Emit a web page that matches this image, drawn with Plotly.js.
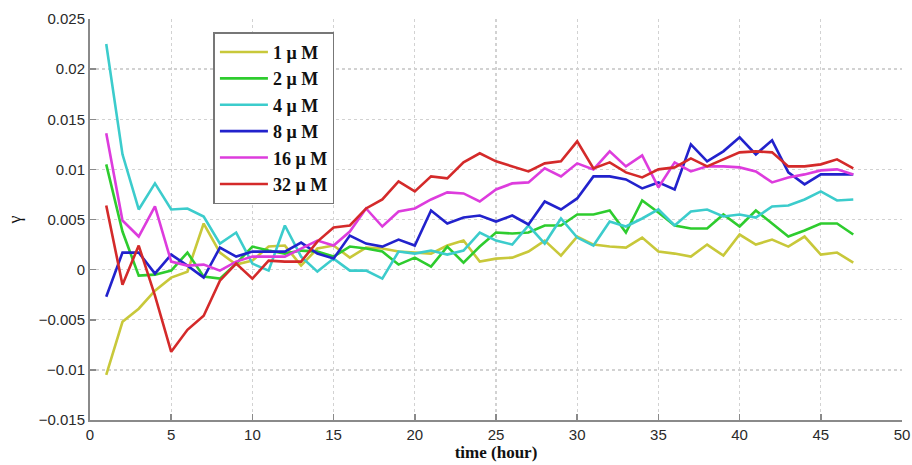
<!DOCTYPE html>
<html>
<head>
<meta charset="utf-8">
<script src="https://cdn.plot.ly/plotly-3.0.1.min.js"></script>
<style>html,body{margin:0;padding:0;background:#fff;}#chart{width:912px;height:465px;}</style>
</head>
<body>
<div id="chart"></div>
<script>
var hours = [1,2,3,4,5,6,7,8,9,10,11,12,13,14,15,16,17,18,19,20,21,22,23,24,25,26,27,28,29,30,31,32,33,34,35,36,37,38,39,40,41,42,43,44,45,46,47];

var c1uM = [-0.0105,-0.0052,-0.0039,-0.0021,-0.0008,-0.0002,0.0046,0.0017,0.0005,0.0009,0.0023,0.0024,0.0004,0.0021,0.0024,0.0012,0.0022,0.0021,0.0018,0.0017,0.0016,0.0024,0.0029,0.0008,0.0011,0.0012,0.0018,0.0029,0.0014,0.0033,0.0025,0.0023,0.0022,0.0032,0.0018,0.0016,0.0013,0.0025,0.0014,0.0035,0.0025,0.0030,0.0023,0.0033,0.0015,0.0017,0.0007];
var c2uM = [0.0105,0.0038,-0.0006,-0.0005,-0.0001,0.0017,-0.0007,-0.0009,0.0006,0.0023,0.0019,0.0016,0.0019,0.0018,0.0013,0.0023,0.0021,0.0018,0.0005,0.0012,0.0003,0.0023,0.0007,0.0023,0.0037,0.0036,0.0037,0.0044,0.0044,0.0055,0.0055,0.0059,0.0037,0.0069,0.0057,0.0044,0.0041,0.0041,0.0055,0.0043,0.0059,0.0046,0.0033,0.0039,0.0046,0.0046,0.0035];
var c4uM = [0.0225,0.0115,0.0060,0.0086,0.0060,0.0061,0.0053,0.0026,0.0037,0.0006,-0.0001,0.0044,0.0013,-0.0002,0.0011,-0.0001,-0.0001,-0.0009,0.0018,0.0016,0.0019,0.0015,0.0019,0.0037,0.0029,0.0025,0.0044,0.0026,0.0051,0.0032,0.0024,0.0048,0.0043,0.0051,0.0060,0.0044,0.0058,0.0060,0.0053,0.0055,0.0052,0.0063,0.0064,0.0070,0.0078,0.0069,0.0070];
var c8uM = [-0.0027,0.0017,0.0017,-0.0004,0.0015,0.0004,-0.0008,0.0022,0.0013,0.0018,0.0018,0.0018,0.0027,0.0016,0.0011,0.0034,0.0026,0.0023,0.0030,0.0024,0.0059,0.0046,0.0052,0.0054,0.0048,0.0054,0.0045,0.0068,0.0060,0.0071,0.0093,0.0093,0.0090,0.0081,0.0087,0.0080,0.0125,0.0108,0.0118,0.0132,0.0115,0.0129,0.0097,0.0085,0.0095,0.0095,0.0095];
var c16uM = [0.0136,0.0049,0.0033,0.0063,0.0008,0.0004,0.0005,-0.0001,0.0008,0.0013,0.0013,0.0013,0.0021,0.0029,0.0024,0.0038,0.0061,0.0043,0.0058,0.0061,0.0070,0.0077,0.0076,0.0068,0.0080,0.0086,0.0087,0.0101,0.0093,0.0106,0.0100,0.0118,0.0103,0.0114,0.0082,0.0107,0.0098,0.0103,0.0103,0.0102,0.0098,0.0087,0.0092,0.0095,0.0099,0.0100,0.0095];
var c32uM = [0.0064,-0.0015,0.0024,-0.0026,-0.0082,-0.0060,-0.0046,-0.0011,0.0006,-0.0009,0.0009,0.0008,0.0008,0.0028,0.0042,0.0044,0.0061,0.0070,0.0088,0.0078,0.0093,0.0091,0.0107,0.0116,0.0108,0.0103,0.0098,0.0106,0.0108,0.0128,0.0101,0.0107,0.0097,0.0092,0.0100,0.0102,0.0111,0.0103,0.0110,0.0117,0.0118,0.0117,0.0103,0.0103,0.0105,0.0110,0.0101];

var seriesNames = ['1 \u03bc M','2 \u03bc M','4 \u03bc M','8 \u03bc M','16 \u03bc M','32 \u03bc M'];
var seriesData = [c1uM, c2uM, c4uM, c8uM, c16uM, c32uM];
var colors = ['#c8c83a','#2ecc2e','#3ccccc','#2222cc','#dd3cdd','#d42a2a'];

var traces = seriesData.map(function(d, i) {
  return {
    x: hours, y: d, type: 'scatter', mode: 'lines',
    name: seriesNames[i], legendgroup: 'g' + i,
    line: {color: colors[i], width: 2.6}
  };
});

var axisCommon = {
  showline: true, linecolor: '#8a8a8a', linewidth: 2,
  ticks: 'inside', ticklen: 6, tickcolor: '#8a8a8a', tickwidth: 1.5,
  showgrid: true, gridcolor: '#d2d2d2', griddash: 'dot', gridwidth: 1.3,
  zeroline: false, mirror: false,
  tickfont: {family: 'Liberation Sans, Arial, sans-serif', size: 15, color: '#2a2a2a'}
};

var layout = {
  width: 912, height: 465,
  margin: {l: 90, r: 10, t: 19, b: 45},
  paper_bgcolor: '#fff', plot_bgcolor: '#fff',
  showlegend: true,
  legend: {
    x: 0.152, y: 0.967, xanchor: 'left', yanchor: 'top',
    bgcolor: '#fff', bordercolor: '#777', borderwidth: 1.5,
    font: {family: 'Liberation Serif, Times New Roman, serif', size: 18, color: '#111', weight: 'bold'},
    tracegroupgap: 4, traceorder: 'normal', itemwidth: 48
  },
  xaxis: Object.assign({}, axisCommon, {
    range: [0, 50], dtick: 5, tick0: 0,
    title: {text: '<b>time (hour)</b>', standoff: 2,
      font: {family: 'Liberation Serif, Times New Roman, serif', size: 17, color: '#111'}}
  }),
  yaxis: Object.assign({}, axisCommon, {
    range: [-0.015, 0.025], dtick: 0.005, tick0: 0,
    title: {text: '\u03b3', standoff: 12,
      font: {family: 'Liberation Serif, Times New Roman, serif', size: 18, color: '#111'}}
  })
};

Plotly.newPlot('chart', traces, layout, {displayModeBar: false, staticPlot: true});
</script>
</body>
</html>
